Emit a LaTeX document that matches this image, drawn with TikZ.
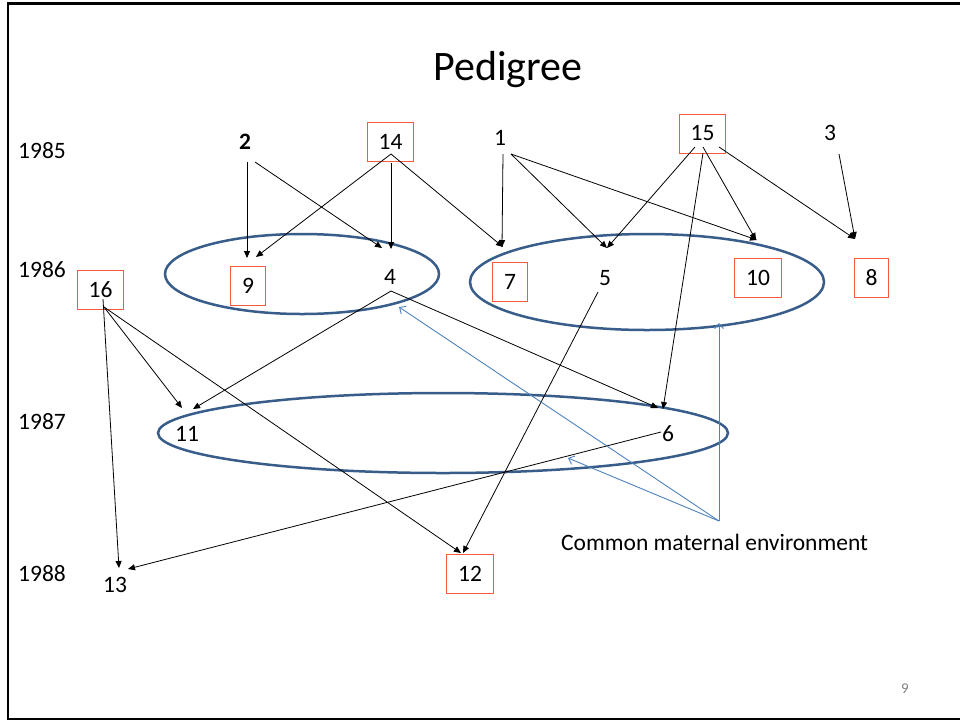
\documentclass[tikz,border=0pt]{standalone}
\usepackage{fontspec}
\setmainfont{Carlito}
\usetikzlibrary{arrows.meta,shapes.geometric}
\definecolor{boxred}{RGB}{245,90,60}
\definecolor{ellblue}{RGB}{56,93,138}
\definecolor{envblue}{RGB}{79,129,189}
\begin{document}
\begin{tikzpicture}[x=1pt,y=-1pt,
  txt/.style={font=\fontsize{23.5}{28}\selectfont, inner sep=1pt},
  pbox/.style={txt, draw=boxred, line width=1pt, minimum height=39pt, inner xsep=11.3pt},
  arr/.style={-{Triangle[length=7pt,width=6pt]}, line width=0.8pt},
  env/.style={draw=envblue, line width=0.9pt, -{Straight Barb[length=5pt,width=9pt]}},
  fam/.style={draw=ellblue, line width=2.5pt, ellipse, inner sep=0pt}]
\useasboundingbox (0,0) rectangle (960,721);
% frame
\draw[line width=2.5pt] (962,3.5) -- (8,3.5) -- (8,719) -- (962,719);
% title
\node[font=\fontsize{42}{50}\selectfont] (title) at (508,70) {Pedigree};
% years
\node[txt, anchor=west] (y85) at (17,151) {1985};
\node[txt, anchor=west] (y86) at (17,270) {1986};
\node[txt, anchor=west] (y87) at (17,422) {1987};
\node[txt, anchor=west] (y88) at (17,574) {1988};
% sibling ellipses
\node[fam, minimum width=274pt, minimum height=80pt] (e1) at (302,274) {};
\node[fam, minimum width=354pt, minimum height=96pt] (e2) at (647,282) {};
\node[fam, minimum width=570pt, minimum height=80pt] (e3) at (443,433) {};
% individuals
\node[txt, font=\fontsize{23.5}{28}\selectfont\bfseries] (n2) at (245,142) {2};
\node[pbox] (n14) at (390.5,141.5) {14};
\node[txt] (n1) at (500,138) {1};
\node[pbox] (n15) at (702.5,133.5) {15};
\node[txt] (n3) at (830,133) {3};
\node[pbox] (n9) at (248,285.5) {9};
\node[txt] (n4) at (390,277) {4};
\node[pbox] (n7) at (510,282) {7};
\node[txt] (n5) at (605,278) {5};
\node[pbox] (n10) at (758,277.5) {10};
\node[pbox] (n8) at (871.5,277.5) {8};
\node[pbox] (n16) at (100.5,289.5) {16};
\node[txt] (n11) at (187,434) {11};
\node[txt] (n6) at (668,434) {6};
\node[txt] (n13) at (115,585) {13};
\node[pbox] (n12) at (470,573.5) {12};
% parent -> offspring
\draw[arr] ([shift={(2,20)}]n2.center) -- ([shift={(-1,-27.5)}]n9.center);
\draw[arr] ([shift={(10,20)}]n2.center) -- ([shift={(-8,-29)}]n4.center);
\draw[arr] ([shift={(0.5,12.5)}]n14.center) -- ([shift={(8,-28.5)}]n9.center);
\draw[arr] ([shift={(0.5,21.5)}]n14.center) -- ([shift={(1,-28)}]n4.center);
\draw[arr] ([shift={(0.5,12.5)}]n14.center) -- ([shift={(-7,-35)}]n7.center);
\draw[arr] ([shift={(3,16)}]n1.center) -- ([shift={(-8,-35)}]n7.center);
\draw[arr] ([shift={(11,16)}]n1.center) -- ([shift={(2,-30)}]n5.center);
\draw[arr] ([shift={(11,16)}]n1.center) -- ([shift={(-1,-37.5)}]n10.center);
\draw[arr] ([shift={(-7.5,13.5)}]n15.center) -- ([shift={(2,-30)}]n5.center);
\draw[arr] ([shift={(0.5,13.5)}]n15.center) -- ([shift={(-2,-37.5)}]n10.center);
\draw[arr] ([shift={(0.5,19.5)}]n15.center) -- ([shift={(-5,-25)}]n6.center);
\draw[arr] ([shift={(16.5,13.5)}]n15.center) -- ([shift={(-16.5,-38.5)}]n8.center);
\draw[arr] ([shift={(9,21)}]n3.center) -- ([shift={(-16.5,-38.5)}]n8.center);
\draw[arr] ([shift={(1,14)}]n4.center) -- ([shift={(6,-25)}]n11.center);
\draw[arr] ([shift={(1,14)}]n4.center) -- ([shift={(-10,-26)}]n6.center);
\draw[arr] ([shift={(3.5,17.5)}]n16.center) -- ([shift={(-5,-26)}]n11.center);
\draw[arr] ([shift={(2.5,9.5)}]n16.center) -- ([shift={(4,-17)}]n13.center);
\draw[arr] ([shift={(3.5,17.5)}]n16.center) -- ([shift={(-9,-20.5)}]n12.center);
\draw[arr] ([shift={(-7,14)}]n5.center) -- ([shift={(-7,-20.5)}]n12.center);
\draw[arr] ([shift={(-7,-2)}]n6.center) -- ([shift={(13,-16)}]n13.center);
% common maternal environment
\coordinate (cme) at (719,521);
\draw[env] (cme) -- ([shift={(97,33)}]e1.center);
\draw[env] (cme) -- ([shift={(125,25)}]e3.center);
\draw[env] (cme) -- ([shift={(72,41)}]e2.center);
\node[txt, anchor=west] (lbl) at (560,542) {Common maternal environment};
% page number
\node[font=\fontsize{15}{17}\selectfont, text=gray] (pg) at (905,689) {9};
\end{tikzpicture}
\end{document}
